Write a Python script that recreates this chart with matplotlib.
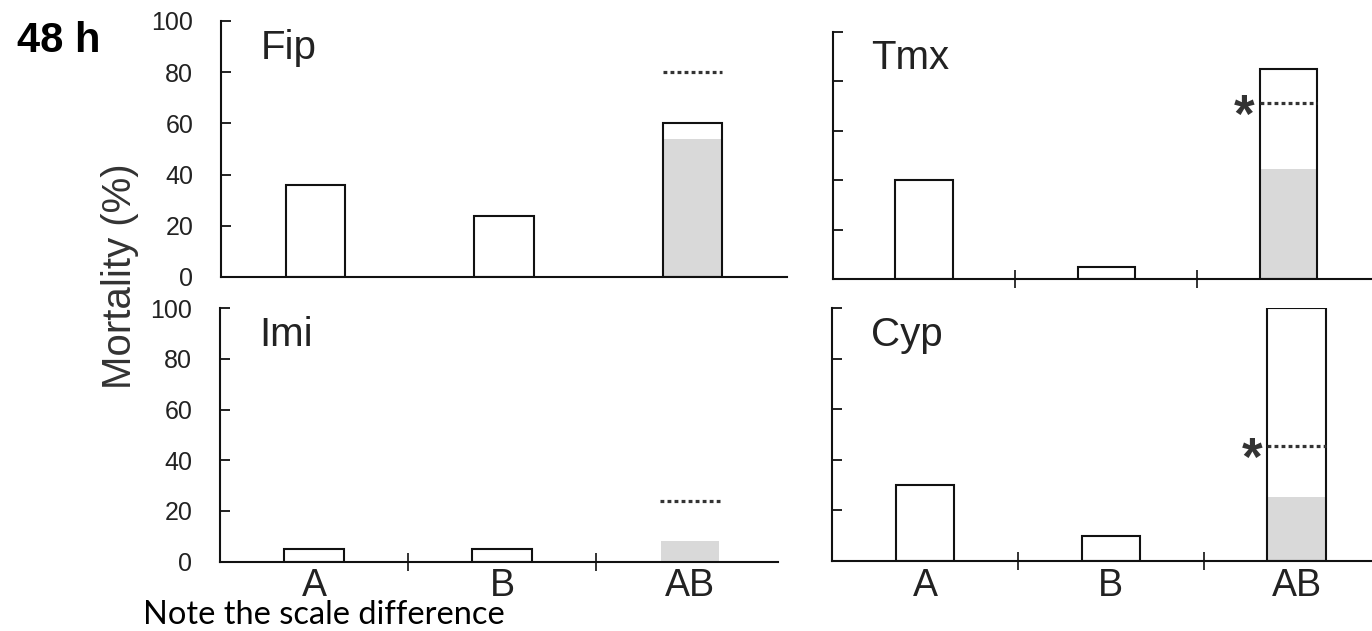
import matplotlib.pyplot as plt

# Mortality (%) after 48 h, per insecticide panel
panels = ['Fip', 'Tmx', 'Imi', 'Cyp']
categories = ['A', 'B', 'AB']
mort_A = [36, 40, 5, 30]
mort_B = [24, 5, 5, 10]
mort_AB = [60, 85, 0, 100]       # open bar (observed)
grey_AB = [54, 44.5, 8, 25.5]    # grey part of the AB bar
dotted_AB = [80, 71, 24, 45.7]   # dotted reference line
signif = [False, True, False, True]
yticks = [0, 20, 40, 60, 80, 100]

W, H = 1372, 631
fig = plt.figure(figsize=(W / 100, H / 100), dpi=100)
plt.rcParams['font.family'] = ['Liberation Sans', 'DejaVu Sans']


def add_panel(left, right, top, bottom):
    # pixel box -> figure fraction
    return fig.add_axes([left / W, 1 - bottom / H, (right - left) / W, (bottom - top) / H])


# pixel boxes of the four panels (left, right, top, bottom), and x range
boxes = [(221, 787, 21, 277), (833, 1379.5, 31.5, 279),
         (220, 778, 308.3, 561.5), (832, 1389.7, 308.3, 561)]
xmax = [2.5, 2.5, 2.468, 2.5]

ink = '#111111'
txt = '#222222'
bw = 0.315
x = [0, 1, 2]

for i, name in enumerate(panels):
    ax = add_panel(*boxes[i])
    vals = [mort_A[i], mort_B[i], mort_AB[i]]

    # grey part of AB, then the open outlined bars on top
    ax.bar(2, grey_AB[i], width=bw * 0.97, color='#d9d9d9', edgecolor='none', zorder=2)
    outline = [1.5 if v > 0 else 0 for v in vals]
    ax.bar(x, vals, width=bw, facecolor='none', edgecolor=ink, linewidth=outline, zorder=3)

    # dotted line over the AB bar
    ax.plot([2 - bw / 2, 2 + bw / 2], [dotted_AB[i]] * 2, color='#333333',
            linewidth=2.3, linestyle=(0, (1.2, 1.0)), zorder=4, solid_capstyle='butt')
    if signif[i]:
        ax.annotate('*', xy=(2 - bw / 2, dotted_AB[i]), xytext=(-11, -21),
                    textcoords='offset points', ha='center', va='baseline',
                    fontsize=38, fontweight='bold', color='#333333', zorder=5)

    ax.set_xlim(-0.5, xmax[i])
    ax.set_ylim(0, 100)
    for s in ['top', 'right']:
        ax.spines[s].set_visible(False)
    for s in ['left', 'bottom']:
        ax.spines[s].set_linewidth(1.5)
        ax.spines[s].set_color(ink)

    ax.set_yticks(yticks)
    ax.tick_params(axis='y', direction='in', length=7, width=1.3, color=ink,
                   labelsize=18, labelcolor=txt, pad=20, labelleft=(i % 2 == 0))

    ax.set_xticks([0.5, 1.5])
    ax.set_xticklabels([])
    ax.tick_params(axis='x', which='major', direction='inout', length=13,
                   width=1.2, color=ink)
    if i == 0:
        ax.tick_params(axis='x', which='major', length=0)
    ax.set_xticks(x, minor=True)
    if i >= 2:
        ax.set_xticklabels(categories, minor=True)
    ax.tick_params(axis='x', which='minor', length=0, labelsize=27,
                   labelcolor=txt, pad=5)

    ax.text(0.07, 0.85, name, transform=ax.transAxes, fontsize=29,
            color=txt, ha='left', va='baseline')

fig.text(120 / W, 1 - 276 / H, 'Mortality (%)', rotation=90, fontsize=29,
         color='#333333', ha='center', va='center')
fig.text(17 / W, 1 - 52 / H, '48 h', fontsize=30, fontweight='bold',
         color='black', ha='left', va='baseline')
fig.text(143 / W, 1 - 624 / H, 'Note the scale difference', fontsize=23.5,
         family=['Lato', 'DejaVu Sans'], color='black', ha='left', va='baseline')

fig.savefig('out.png', dpi=100)
